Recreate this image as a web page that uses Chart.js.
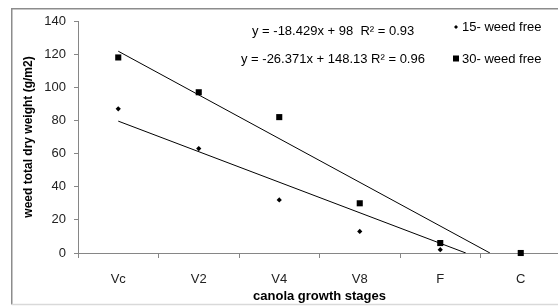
<!DOCTYPE html>
<html>
<head>
<meta charset="utf-8">
<script src="https://cdn.jsdelivr.net/npm/chart.js@4.4.1/dist/chart.umd.min.js"></script>
<style>
html,body{margin:0;padding:0;background:#fff;overflow:hidden;width:558px;height:306px;}
#wrap{width:566px;height:306px;}
</style>
</head>
<body>
<div id="wrap"><canvas id="c" width="566" height="306"></canvas></div>
<script>
const categories = ['Vc', 'V2', 'V4', 'V8', 'F', 'C'];
const weedFree15 = [87, 63, 32, 13, 2, 0];
const weedFree30 = [118, 97, 82, 30, 6, 0];
const seriesNames = ['15- weed free', '30- weed free'];
// trendline equations as printed on the chart
const trend15 = { slope: -18.429, intercept: 98, r2: 0.93 };
const trend30 = { slope: -26.371, intercept: 148.13, r2: 0.96 };
const equationLabels = ['y = -18.429x + 98  R\u00B2 = 0.93', 'y = -26.371x + 148.13 R\u00B2 = 0.96'];
const yMin = 0, yMax = 140, yStep = 20;
const xTitle = 'canola growth stages';
const yTitle = 'weed total dry weight (g/m2)';

const FONT = "'Liberation Sans Narrow', 'Liberation Sans', Arial, sans-serif";
const AXIS = '#868686';

function trendPoints(t) {
  const x0 = 1;
  const xEnd = -t.intercept / t.slope; // where line reaches zero
  return [{ x: x0, y: t.slope * x0 + t.intercept }, { x: xEnd, y: 0 }];
}

const framePlugin = {
  id: 'frame',
  beforeDraw(chart) {
    const ctx = chart.ctx;
    ctx.save();
    ctx.fillStyle = '#fff';
    ctx.fillRect(0, 0, chart.width, chart.height);
    ctx.strokeStyle = '#8c8c8c';
    ctx.lineWidth = 1.5;
    ctx.beginPath();
    ctx.moveTo(chart.width + 5, 8.75);
    ctx.lineTo(11.75, 8.75);
    ctx.lineTo(11.75, 304.5);
    ctx.stroke();
    ctx.strokeStyle = '#d9d9d9';
    ctx.beginPath();
    ctx.moveTo(11.75, 304.5);
    ctx.lineTo(chart.width + 5, 304.5);
    ctx.stroke();
    ctx.restore();
  },
  afterDraw(chart) {
    const ctx = chart.ctx;
    ctx.save();
    ctx.fillStyle = '#000';
    ctx.font = '13px ' + FONT;
    ctx.textBaseline = 'middle';
    ctx.textAlign = 'left';
    ctx.fillText(equationLabels[0], 252, 31);
    ctx.fillText(equationLabels[1], 241, 59);
    // legend
    const lx = 456;
    ctx.beginPath();
    ctx.moveTo(lx, 25); ctx.lineTo(lx + 2, 27); ctx.lineTo(lx, 29); ctx.lineTo(lx - 2, 27); ctx.closePath();
    ctx.fill();
    ctx.fillRect(lx - 3, 55.5, 6, 6);
    ctx.fillText(seriesNames[0], 462, 27);
    ctx.fillText(seriesNames[1], 462, 59);
    ctx.restore();
  }
};

new Chart(document.getElementById('c'), {
  type: 'line',
  data: {
    labels: categories,
    datasets: [
      {
        label: seriesNames[0], data: weedFree15, showLine: false, clip: false,
        pointStyle: 'rectRot', pointRadius: 2.6, pointBackgroundColor: '#000', pointBorderColor: '#000', pointBorderWidth: 0,
        order: 1
      },
      {
        label: seriesNames[1], data: weedFree30, showLine: false, clip: false,
        pointStyle: 'rect', pointRadius: 4.3, pointBackgroundColor: '#000', pointBorderColor: '#000', pointBorderWidth: 0,
        order: 0
      },
      {
        label: 'trend15', data: trendPoints(trend15), xAxisID: 'x2',
        borderColor: '#000', borderWidth: 1, pointRadius: 0, fill: false, order: 2
      },
      {
        label: 'trend30', data: trendPoints(trend30), xAxisID: 'x2',
        borderColor: '#000', borderWidth: 1, pointRadius: 0, fill: false, order: 2
      }
    ]
  },
  options: {
    responsive: false,
    animation: false,
    devicePixelRatio: 1,
    layout: { padding: { left: 12, top: 21, right: 5, bottom: 0 } },
    plugins: { legend: { display: false }, tooltip: { enabled: false } },
    scales: {
      x: {
        type: 'category',
        offset: true,
        grid: { offset: true, drawOnChartArea: false, drawTicks: true, tickLength: 5, color: AXIS, lineWidth: 1 },
        border: { color: AXIS, width: 1 },
        ticks: { color: '#222', font: { family: FONT, size: 13 }, padding: 14, maxRotation: 0 },
        title: { display: true, text: xTitle, color: '#000', font: { family: FONT, size: 13, weight: 'bold' }, padding: { top: 0, bottom: 2 } },
        afterFit(s) { s.height = 53; }
      },
      x2: { type: 'linear', min: 0.5, max: 6.5, display: false },
      y: {
        min: yMin, max: yMax,
        ticks: { stepSize: yStep, color: '#222', font: { family: FONT, size: 13 }, padding: 8 },
        grid: { drawOnChartArea: false, drawTicks: true, tickLength: 4, color: AXIS },
        border: { color: AXIS, width: 1 },
        title: { display: true, text: yTitle, color: '#000', font: { family: FONT, size: 12, weight: 'bold' }, padding: { top: 9, bottom: 0 } },
        afterFit(s) { s.width = 66; }
      }
    }
  },
  plugins: [framePlugin]
});
</script>
</body>
</html>
